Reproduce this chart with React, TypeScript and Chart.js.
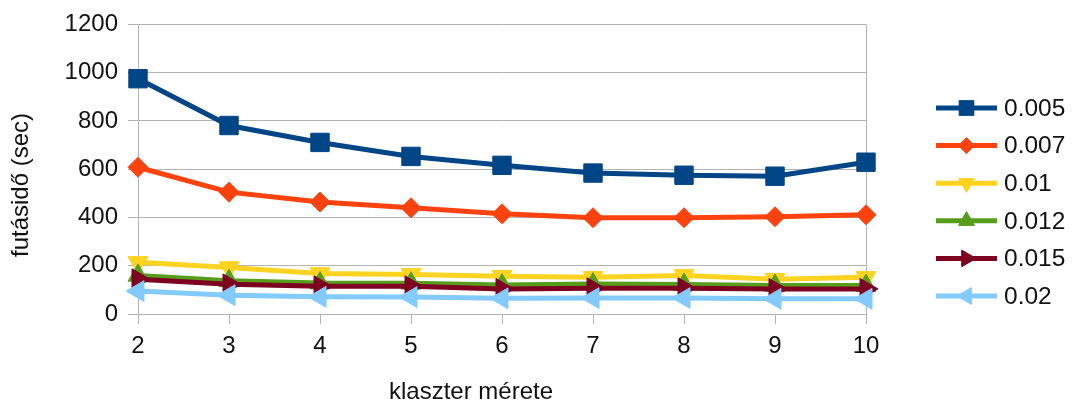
import React, { useEffect, useRef } from 'react';
import { Chart, registerables } from 'chart.js';
import { drawPoint } from 'chart.js/helpers';

Chart.register(...registerables);

// cluster sizes on the x axis
const categories = ['2', '3', '4', '5', '6', '7', '8', '9', '10'];

// series names (legend)
const seriesNames = ['0.005', '0.007', '0.01', '0.012', '0.015', '0.02'];

// running time in seconds per series
const s005 = [975, 781, 711, 653, 616, 584, 575, 571, 629];
const s007 = [608, 505, 464, 440, 415, 399, 399, 403, 411];
const s010 = [214, 193, 168, 164, 156, 152, 160, 144, 152];
const s012 = [160, 138, 128, 127, 120, 124, 122, 118, 118];
const s015 = [144, 123, 115, 115, 104, 107, 107, 104, 104];
const s020 = [95, 78, 71, 70, 65, 66, 66, 63, 63];

const seriesValues = [s005, s007, s010, s012, s015, s020];

const yMin = 0;
const yMax = 1200;
const yStep = 200;

const xTitle = 'klaszter mérete';
const yTitle = 'futásidő (sec)';

const colors = ['#004586', '#ff420e', '#ffd320', '#579d1c', '#7e0021', '#83caff'];
const markers = [
  { style: 'rect', rotation: 0, radius: 13 },
  { style: 'rectRot', rotation: 0, radius: 10 },
  { style: 'triangle', rotation: 180, radius: 11.5 },
  { style: 'triangle', rotation: 0, radius: 11.5 },
  { style: 'triangle', rotation: 90, radius: 12 },
  { style: 'triangle', rotation: -90, radius: 12 },
];

const FONT = '"Liberation Sans", Arial, sans-serif';
const GRID = '#b3b3b3';
const TEXT = '#111111';

// axis titles and the legend on the right (line with the series marker, then the label)
const sideLegend = {
  id: 'sideLegend',
  afterDraw(chart: any) {
    const ctx = chart.ctx;
    ctx.save();

    ctx.fillStyle = TEXT;
    ctx.font = `24px ${FONT}`;
    ctx.textAlign = 'center';
    ctx.textBaseline = 'middle';
    ctx.fillText(xTitle, 471, 392);
    ctx.save();
    ctx.translate(21, 185);
    ctx.rotate(-Math.PI / 2);
    ctx.fillText(yTitle, 0, 0);
    ctx.restore();

    const x0 = 936;
    const x1 = 997;
    const startY = 108;
    const gap = 37.6;
    seriesNames.forEach((name, i) => {
      const y = startY + i * gap;
      ctx.strokeStyle = colors[i];
      ctx.lineWidth = 5;
      ctx.beginPath();
      ctx.moveTo(x0, y);
      ctx.lineTo(x1, y);
      ctx.stroke();
      ctx.fillStyle = colors[i];
      ctx.strokeStyle = colors[i];
      ctx.lineWidth = 1;
      drawPoint(
        ctx,
        {
          pointStyle: markers[i].style as any,
          rotation: markers[i].rotation,
          radius: markers[i].radius * 0.8,
          borderWidth: 1,
        },
        (x0 + x1) / 2,
        y
      );
      ctx.fillStyle = TEXT;
      ctx.font = `24.5px ${FONT}`;
      ctx.textBaseline = 'middle';
      ctx.textAlign = 'left';
      ctx.fillText(name, 1004, y + 1);
    });
    ctx.restore();
  },
};

export default function App() {
  const canvasRef = useRef<HTMLCanvasElement | null>(null);

  useEffect(() => {
    document.body.style.margin = '0';
    const canvas = canvasRef.current;
    if (!canvas) return;

    const datasets = seriesValues.map((values, i) => ({
      label: seriesNames[i],
      data: values,
      borderColor: colors[i],
      backgroundColor: colors[i],
      borderWidth: 5,
      pointStyle: markers[i].style as any,
      pointRotation: markers[i].rotation,
      pointRadius: markers[i].radius,
      pointHoverRadius: markers[i].radius,
      pointBorderWidth: 1,
      pointBackgroundColor: colors[i],
      pointBorderColor: colors[i],
      tension: 0,
      order: seriesValues.length - i,
      clip: false as any,
    }));

    const chart = new Chart(canvas, {
      type: 'line',
      data: { labels: categories, datasets },
      plugins: [sideLegend],
      options: {
        responsive: false,
        animation: false,
        layout: { padding: { top: 22, right: 209, bottom: 0, left: 0 } },
        plugins: {
          legend: { display: false },
          tooltip: { enabled: false },
        },
        scales: {
          x: {
            type: 'category',
            offset: false,
            grid: {
              color: (c: any) =>
                c.index === 0 || c.index === categories.length - 1 ? GRID : 'rgba(0,0,0,0)',
              tickColor: GRID,
              tickLength: 10,
              lineWidth: 1,
            },
            border: { display: true, color: GRID, width: 1 },
            ticks: {
              color: TEXT,
              font: { family: FONT, size: 24 },
              padding: 8,
              maxRotation: 0,
            },
            afterFit: (scale: any) => {
              scale.height = 91;
            },
          },
          y: {
            min: yMin,
            max: yMax,
            ticks: {
              stepSize: yStep,
              color: TEXT,
              font: { family: FONT, size: 24 },
              padding: 10,
              callback: (v: any) => String(v),
            },
            grid: {
              color: GRID,
              tickColor: GRID,
              tickLength: 10,
              lineWidth: 1,
            },
            border: { display: true, color: GRID, width: 1 },
            afterFit: (scale: any) => {
              scale.width = 138;
            },
          },
        },
      },
    });

    return () => chart.destroy();
  }, []);

  return (
    <canvas
      ref={canvasRef}
      width={1075}
      height={405}
      style={{ display: 'block', width: '1075px', height: '405px' }}
    />
  );
}
